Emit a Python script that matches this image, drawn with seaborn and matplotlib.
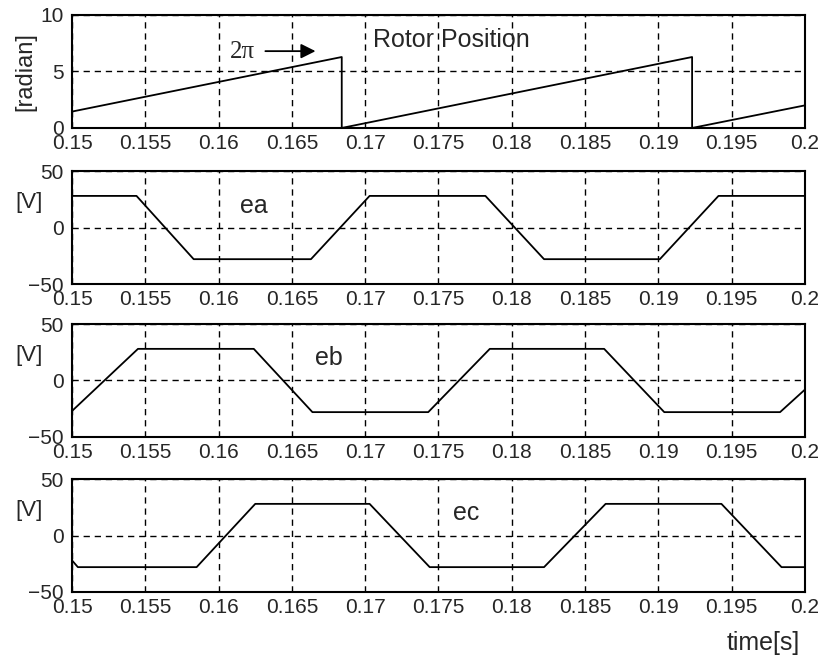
# rotor position and back-emf waveforms (ea, eb, ec) over one time window
import numpy as np
import pandas as pd
import seaborn as sns
import matplotlib.pyplot as plt

# rotor position [rad], saw-tooth
rotor_t = [0.15, 0.1684, 0.1684, 0.1923, 0.1923, 0.2]
rotor_v = [1.45, 6.28, 0.0, 6.28, 0.0, 2.0]

# trapezoidal back-emf corners [V]
ea_t = [0.15, 0.1544, 0.1583, 0.1663, 0.1703, 0.1782, 0.1822, 0.1901, 0.1941, 0.2]
ea_v = [28, 28, -28, -28, 28, 28, -28, -28, 28, 28]
eb_t = [0.15, 0.1545, 0.1624, 0.1664, 0.1743, 0.1785, 0.1863, 0.1904, 0.1983, 0.2]
eb_v = [-27, 28, 28, -28, -28, 28, 28, -28, -28, -8]
ec_t = [0.15, 0.1504, 0.1585, 0.1625, 0.1703, 0.1744, 0.1822, 0.1864, 0.1943, 0.1984, 0.2]
ec_v = [-22, -28, -28, 28, 28, -28, -28, 28, 28, -28, -28]

xticks = [0.15, 0.155, 0.16, 0.165, 0.17, 0.175, 0.18, 0.185, 0.19, 0.195, 0.2]
xtick_labels = ['0.15', '0.155', '0.16', '0.165', '0.17', '0.175', '0.18',
                '0.185', '0.19', '0.195', '0.2']

sns.set_style('white')
plt.rcParams['font.family'] = ['Liberation Sans', 'DejaVu Sans']

fig = plt.figure(figsize=(8.22, 6.63), dpi=100)
bottoms = [0.807, 0.5716, 0.3409, 0.1071]
axes = [fig.add_axes([0.0876, b, 0.8917, 0.1704]) for b in bottoms]

series = [(rotor_t, rotor_v), (ea_t, ea_v), (eb_t, eb_v), (ec_t, ec_v)]
for ax, (t, v) in zip(axes, series):
    df = pd.DataFrame({'t': t, 'v': v})
    sns.lineplot(data=df, x='t', y='v', ax=ax, color='black', lw=1.3,
                 estimator=None, sort=False)
    ax.set_xlim(0.15, 0.2)
    ax.set_xticks(xticks)
    ax.set_xticklabels(xtick_labels)
    ax.set_xlabel('')
    ax.set_ylabel('')
    ax.grid(True, color='black', lw=1.0, ls=(0, (4.5, 3.5)))
    ax.tick_params(direction='in', length=4, labelsize=15, pad=4, color='black')
    ax.tick_params(axis='y', pad=6)
    for s in ax.spines.values():
        s.set_color('black')
        s.set_linewidth(1.5)

axes[0].set_ylim(0, 10)
axes[0].set_yticks([0, 5, 10])
for ax in axes[1:]:
    ax.set_ylim(-50, 50)
    ax.set_yticks([-50, 0, 50])

# labels and annotations
axes[0].text(-0.063, 0.5, '[radian]', rotation=90, ha='center', va='center',
             fontsize=17, transform=axes[0].transAxes)
axes[0].text(0.1705, 7.8, 'Rotor Position', fontsize=18, ha='left', va='center')
axes[0].text(0.1616, 6.7, '2\u03c0', fontsize=18, ha='center', va='center',
             family=['Liberation Serif', 'DejaVu Serif'])
axes[0].annotate('', xy=(0.1668, 6.8), xytext=(0.1630, 6.8),
                 arrowprops=dict(arrowstyle='-|>', color='black', lw=1.3,
                                 mutation_scale=22))
for ax in axes[1:]:
    ax.text(-0.059, 0.72, '[V]', ha='center', va='center', fontsize=16,
            transform=ax.transAxes)
axes[1].text(0.1624, 19, 'ea', fontsize=18, ha='center', va='center')
axes[2].text(0.1675, 20, 'eb', fontsize=18, ha='center', va='center')
axes[3].text(0.1769, 20, 'ec', fontsize=18, ha='center', va='center')
axes[3].text(0.993, -0.45, 'time[s]', fontsize=18, ha='right', va='center',
             transform=axes[3].transAxes)

fig.savefig('out.png', dpi=100, facecolor='white')
